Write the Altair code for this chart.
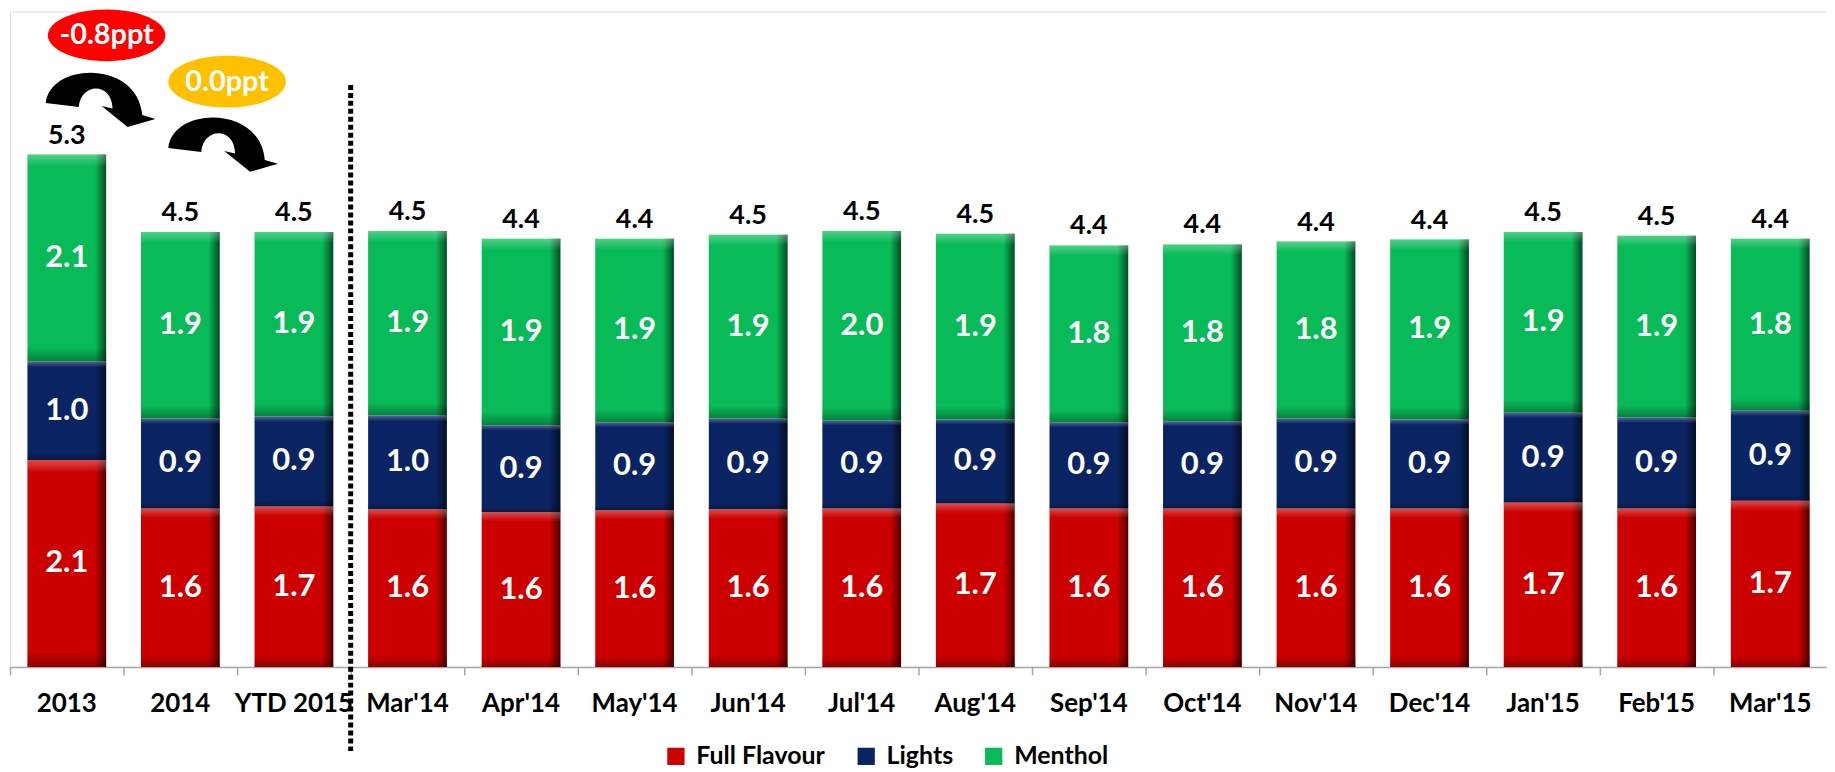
import altair as alt
import pandas as pd

cats = ["2013", "2014", "YTD 2015", "Mar'14", "Apr'14", "May'14", "Jun'14", "Jul'14",
        "Aug'14", "Sep'14", "Oct'14", "Nov'14", "Dec'14", "Jan'15", "Feb'15", "Mar'15"]
series = ["Full Flavour", "Lights", "Menthol"]
colors = ["#CC0000", "#0A2463", "#08BA58"]
full_flavour = [2.14, 1.64, 1.66, 1.63, 1.60, 1.62, 1.63, 1.64, 1.69, 1.64, 1.64, 1.64, 1.64, 1.70, 1.64, 1.72]
lights = [1.02, 0.93, 0.93, 0.97, 0.90, 0.91, 0.94, 0.91, 0.87, 0.89, 0.90, 0.93, 0.92, 0.93, 0.94, 0.93]
menthol = [2.14, 1.93, 1.91, 1.91, 1.93, 1.90, 1.90, 1.96, 1.92, 1.83, 1.83, 1.83, 1.86, 1.87, 1.88, 1.78]

# annotations (x in category units, y in value units)
bubble_x = [0.851, 1.912]
bubble_y = [6.533, 6.054]
bubble_text = ["-0.8ppt", "0.0ppt"]
bubble_color = ["#FF0000", "#FFC000"]
arrow_x = [0.798, 1.877]
arrow_y = [5.863, 5.399]
divider_x = [3.0]
divider_y = [6.02]
divider_y2 = [-0.87]

rows = []
for i, c in enumerate(cats):
    for k, (s, vals) in enumerate(zip(series, [full_flavour, lights, menthol])):
        rows.append({"cat": c, "series": s, "idx": k, "value": vals[i]})
df = pd.DataFrame(rows)

FONT = "Lato"
YMAX = 6.78
yscale = alt.Scale(domain=[0, YMAX], nice=False, zero=False)

xaxis = alt.Axis(bandPosition=0, labelAngle=0, labelFont=FONT,
                 labelFontSize=26, labelFontWeight="bold", labelColor="#000000",
                 labelPadding=16, domainColor="#A6A6A6", domainWidth=1.5,
                 tickColor="#A6A6A6", tickWidth=1.5, tickSize=8, grid=False,
                 labelOverlap=False, labelBound=False, labelFlush=False, title=None)
xenc = alt.X("cat:N", sort=cats, title=None,
             scale=alt.Scale(paddingInner=0, paddingOuter=0), axis=xaxis)

base = alt.Chart(df).transform_stack(
    stack="value", as_=["y0", "y1"], groupby=["cat"],
    sort=[alt.SortField("idx", order="ascending")]
).transform_calculate(mid="(datum.y0 + datum.y1) / 2")

bars = base.mark_bar(size=79).encode(
    x=xenc,
    y=alt.Y("y0:Q", scale=yscale, axis=None),
    y2="y1:Q",
    color=alt.Color("series:N", scale=alt.Scale(domain=series, range=colors),
                    legend=alt.Legend(orient="none", legendX=656, legendY=735, direction="horizontal",
                                      title=None, symbolType="square", symbolSize=300,
                                      symbolStrokeWidth=0, labelFont=FONT, labelFontSize=25,
                                      labelFontWeight="bold", labelColor="#000000",
                                      labelOffset=8, columnPadding=28, padding=0)),
)

shade_h = base.mark_bar(size=79, color=alt.Gradient(
    gradient="linear", x1=0, x2=1, y1=0, y2=0,
    stops=[alt.GradientStop(color="rgba(0,0,0,0)", offset=0),
           alt.GradientStop(color="rgba(0,0,0,0)", offset=0.86),
           alt.GradientStop(color="rgba(0,0,0,0.6)", offset=1)])).encode(
    x=xenc, y=alt.Y("y0:Q", scale=yscale, axis=None), y2="y1:Q")

shade_v = base.mark_bar(size=79, color=alt.Gradient(
    gradient="linear", x1=0, x2=0, y1=0, y2=1,
    stops=[alt.GradientStop(color="rgba(255,255,255,0.30)", offset=0),
           alt.GradientStop(color="rgba(255,255,255,0)", offset=0.06),
           alt.GradientStop(color="rgba(0,0,0,0)", offset=0.93),
           alt.GradientStop(color="rgba(0,0,0,0.30)", offset=1)])).encode(
    x=xenc, y=alt.Y("y0:Q", scale=yscale, axis=None), y2="y1:Q")

labels = base.mark_text(font=FONT, fontSize=31, fontWeight="bold", color="white",
                        baseline="middle").encode(
    x=xenc, y=alt.Y("mid:Q", scale=yscale, axis=None),
    text=alt.Text("value:Q", format=".1f"))

totals = alt.Chart(df).transform_aggregate(
    total="sum(value)", groupby=["cat"]
).mark_text(font=FONT, fontSize=27, fontWeight="bold", color="black",
            baseline="alphabetic", dy=-11).encode(
    x=xenc, y=alt.Y("total:Q", scale=yscale, axis=None),
    text=alt.Text("total:Q", format=".1f"))

inner = alt.layer(bars, shade_h, shade_v, labels, totals)

xq = alt.Scale(domain=[0, 16], nice=False, zero=False)

div_df = pd.DataFrame({"x": divider_x, "y": divider_y, "y2": divider_y2})
divider = alt.Chart(div_df).mark_rule(color="black", strokeWidth=5, strokeDash=[5, 3]).encode(
    x=alt.X("x:Q", scale=xq, axis=None),
    y=alt.Y("y:Q", scale=yscale, axis=None), y2="y2:Q")

ELLIPSE = ("M -1,0 C -1,-0.243 -0.552,-0.44 0,-0.44 C 0.552,-0.44 1,-0.243 1,0 "
           "C 1,0.243 0.552,0.44 0,0.44 C -0.552,0.44 -1,0.243 -1,0 Z")
ARROW = ("M -1,0.055 C -0.93,-0.70 0.68,-0.74 0.76,0.273 L 1,0.345 L 0.491,0.49 "
         "L 0.02,0.109 L 0.218,0.155 C 0.21,-0.33 -0.36,-0.33 -0.40,0.127 Z")

bub_df = pd.DataFrame({"x": bubble_x, "y": bubble_y, "t": bubble_text, "c": bubble_color})
bubbles = alt.Chart(bub_df).mark_point(shape=ELLIPSE, filled=True, size=13924, opacity=1,
                                       strokeWidth=0).encode(
    x=alt.X("x:Q", scale=xq, axis=None),
    y=alt.Y("y:Q", scale=yscale, axis=None),
    color=alt.Color("c:N", scale=None))
bub_text = alt.Chart(bub_df).mark_text(font=FONT, fontSize=29, fontWeight="bold", color="white",
                                       baseline="middle").encode(
    x=alt.X("x:Q", scale=xq, axis=None),
    y=alt.Y("y:Q", scale=yscale, axis=None),
    text="t:N")

arr_df = pd.DataFrame({"x": arrow_x, "y": arrow_y})
arrows = alt.Chart(arr_df).mark_point(shape=ARROW, filled=True, size=12100, opacity=1,
                                      color="black", strokeWidth=0).encode(
    x=alt.X("x:Q", scale=xq, axis=None),
    y=alt.Y("y:Q", scale=yscale, axis=None))

ann = alt.layer(divider, arrows, bubbles, bub_text)

chart = alt.layer(inner, ann).resolve_scale(x="independent").properties(
    width=1824, height=658,
    padding={"left": 1, "top": 0, "right": 0, "bottom": 0},
).configure_view(stroke=None).configure(background="white")

chart.save("out.html", embed_options={"renderer": "svg", "actions": False})
